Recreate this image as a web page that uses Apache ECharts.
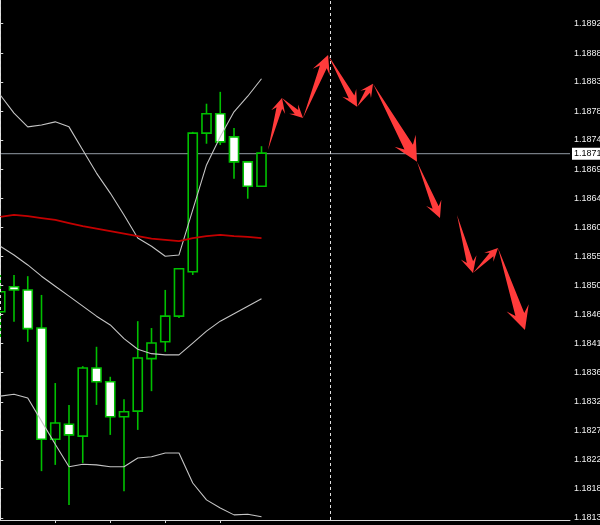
<!DOCTYPE html>
<html>
<head>
<meta charset="utf-8">
<style>
html,body{margin:0;padding:0;background:#000;}
#chart{width:600px;height:525px;}
</style>
<script src="https://cdn.jsdelivr.net/npm/echarts@6/dist/echarts.min.js"></script>
</head>
<body>
<div id="chart"></div>
<script>
// ---- data ----
const candleX = [0,1,2,3,4,5,6,7,8,9,10,11,12,13,14,15,16,17,18,19];
const openP  = [1.18461,1.18501,1.18496,1.18435,1.18257,1.18281,1.18262,1.18371,1.18349,1.18293,1.18302,1.18386,1.18413,1.18454,1.18525,1.18747,1.18778,1.18741,1.18701,1.18662];
const closeP = [1.18493,1.18496,1.18434,1.18257,1.18283,1.18264,1.18371,1.18349,1.18293,1.18301,1.18387,1.18411,1.18454,1.18530,1.18747,1.18778,1.18733,1.18701,1.18662,1.18715];
const lowP   = [1.18416,1.18445,1.18413,1.18206,1.18216,1.18152,1.18219,1.18312,1.18264,1.18174,1.18272,1.18334,1.18397,1.18451,1.18520,1.18730,1.18728,1.18674,1.18642,1.18661];
const highP  = [1.18520,1.18520,1.18518,1.18488,1.18347,1.18312,1.18374,1.18405,1.18357,1.18321,1.18446,1.18435,1.18496,1.18531,1.18749,1.18794,1.18813,1.18755,1.18701,1.18726];

const bandUpper = [1.18808,1.18779,1.18757,1.18760,1.18765,1.18757,1.18720,1.18683,1.18651,1.18616,1.18579,1.18566,1.18550,1.18552,1.18624,1.18696,1.18741,1.18781,1.18806,1.18834];
const bandMid   = [1.18566,1.18552,1.18536,1.18518,1.18502,1.18486,1.18470,1.18454,1.18440,1.18418,1.18401,1.18394,1.18392,1.18392,1.18411,1.18430,1.18446,1.18458,1.18470,1.18482];
const bandLower = [1.18326,1.18329,1.18323,1.18286,1.18249,1.18213,1.18217,1.18216,1.18213,1.18213,1.18227,1.18229,1.18235,1.18235,1.18187,1.18160,1.18147,1.18136,1.18137,1.18133];
const maRed     = [1.18613,1.18616,1.18614,1.18611,1.18608,1.18603,1.18598,1.18594,1.18590,1.18586,1.18582,1.18578,1.18576,1.18574,1.18579,1.18582,1.18584,1.18582,1.18581,1.18579];

const arrowFrom = [[19.47,1.18720],[20.49,1.18803],[22.02,1.18771],[23.84,1.18872],[25.95,1.18789],[27.11,1.18826],[30.31,1.18701],[33.22,1.18616],[34.38,1.18523],[36.20,1.18563]];
const arrowTo   = [[20.49,1.18803],[22.02,1.18771],[23.84,1.18872],[25.95,1.18789],[27.11,1.18826],[30.31,1.18701],[31.98,1.18611],[34.38,1.18523],[36.20,1.18563],[38.16,1.18432]];

const yTickValues = [1.18131,1.18178,1.18224,1.18271,1.18317,1.18364,1.18410,1.18457,1.18503,1.18550,1.18596,1.18643,1.18689,1.18736,1.18782,1.18829,1.18875,1.18922];
const yTickLabels = ['1.1813','1.1818','1.1822','1.1827','1.1832','1.1836','1.1841','1.1846','1.1850','1.1855','1.1860','1.1864','1.1869','1.1874','1.1878','1.1883','1.1888','1.1892'];
const xTickValues = [4,8,12,16];
const separatorX = [0,24];
const currentPrice = 1.18714;
const currentPriceLabel = '1.1871';

// ---- chart ----
const X_MIN = -0.018, X_MAX = 41.436;
const Y_MIN = 1.181278, Y_MAX = 1.189600;
const GREEN = '#00c000';
const FONT = '"Liberation Sans", Arial, sans-serif';

const candleData = candleX.map((x,i)=>[x, openP[i], closeP[i], lowP[i], highP[i]]);
const arrowData = arrowFrom.map((f,i)=>[f[0], f[1], arrowTo[i][0], arrowTo[i][1]]);
const pairs = arr => candleX.map((x,i)=>[x, arr[i]]);

function nearestLabel(v){
  let best=0, bd=Infinity;
  yTickValues.forEach((t,i)=>{const d=Math.abs(t-v); if(d<bd){bd=d;best=i;}});
  return yTickLabels[best];
}

const chart = echarts.init(document.getElementById('chart'), null, {renderer:'canvas'});
chart.setOption({
  animation:false,
  backgroundColor:'#000',
  grid:{left:0, right:30, top:0, bottom:5, containLabel:false, outerBoundsMode:'none'},
  xAxis:{
    type:'value', min:X_MIN, max:X_MAX,
    axisLine:{show:true, onZero:false, lineStyle:{color:'#d8d8d8', width:1}},
    axisTick:{show:true, customValues:xTickValues, length:3, lineStyle:{color:'#d8d8d8'}},
    axisLabel:{show:false},
    splitLine:{show:false}
  },
  yAxis:[{
    type:'value', position:'right', min:Y_MIN, max:Y_MAX,
    axisLine:{show:true, lineStyle:{color:'#d8d8d8', width:1}},
    axisTick:{show:true, customValues:yTickValues, length:3, lineStyle:{color:'#d8d8d8'}},
    axisLabel:{show:true, customValues:yTickValues, margin:4, color:'#f0f0f0', fontSize:9, fontFamily:FONT,
      formatter:(v)=>nearestLabel(v)},
    splitLine:{show:false}
  },{
    type:'value', position:'right', min:Y_MIN, max:Y_MAX,
    axisLine:{show:false}, axisTick:{show:false}, splitLine:{show:false},
    axisLabel:{show:true, customValues:[currentPrice], margin:2, color:'#000', backgroundColor:'#fff',
      padding:[2,3,1,2], fontSize:9, fontFamily:FONT, formatter:()=>currentPriceLabel}
  }],
  series:[
    {
      type:'line', data:[[X_MIN,currentPrice],[X_MAX,currentPrice]], z:1, silent:true, showSymbol:false,
      lineStyle:{color:'#939ba5', width:1},
      markLine:{
        symbol:'none', silent:true, animation:false,
        label:{show:false},
        data: separatorX.map(x=>({xAxis:x, lineStyle:{color:'#e0e0e0', width:1, type:[3,3]}}))
      }
    },
    {
      type:'custom', z:2, silent:true,
      data:candleData,
      encode:{x:0, y:[1,2,3,4]},
      renderItem:(params, api)=>{
        const x=api.value(0), o=api.value(1), c=api.value(2), l=api.value(3), h=api.value(4);
        const pO=api.coord([x,o]), pC=api.coord([x,c]), pL=api.coord([x,l]), pH=api.coord([x,h]);
        const w = api.size([1,0])[0]*0.66;
        const top=Math.min(pO[1],pC[1]), bot=Math.max(pO[1],pC[1]);
        const bull = c>=o;
        return {type:'group', children:[
          {type:'line', shape:{x1:pH[0], y1:pH[1], x2:pL[0], y2:pL[1]}, style:{stroke:GREEN, lineWidth:1.6}},
          {type:'rect', shape:{x:pO[0]-w/2, y:top, width:w, height:Math.max(bot-top,1)},
           style:{fill: bull?'#000':'#fff', stroke:GREEN, lineWidth:1.6}}
        ]};
      }
    },
    {type:'line', data:pairs(bandUpper), z:3, showSymbol:false, silent:true, lineStyle:{color:'#c4c4c4', width:1.1}},
    {type:'line', data:pairs(bandMid), z:3, showSymbol:false, silent:true, lineStyle:{color:'#c4c4c4', width:1.1}},
    {type:'line', data:pairs(bandLower), z:3, showSymbol:false, silent:true, lineStyle:{color:'#c4c4c4', width:1.1}},
    {type:'line', data:pairs(maRed), z:3, showSymbol:false, silent:true, lineStyle:{color:'#c40000', width:1.8}},
    {
      type:'custom', z:4, silent:true,
      data:arrowData,
      encode:{x:[0,2], y:[1,3]},
      renderItem:(params, api)=>{
        const a=api.coord([api.value(0), api.value(1)]);
        const b=api.coord([api.value(2), api.value(3)]);
        const dx=b[0]-a[0], dy=b[1]-a[1];
        const len=Math.sqrt(dx*dx+dy*dy);
        const ux=dx/len, uy=dy/len, nx=-uy, ny=ux;
        const hl=Math.max(13, len*0.27), hw=hl*0.5, sw=hl*0.2;
        const base=[b[0]-ux*hl*0.7, b[1]-uy*hl*0.7];
        const barb=[b[0]-ux*hl, b[1]-uy*hl];
        const pts=[
          a,
          [base[0]+nx*sw, base[1]+ny*sw],
          [barb[0]+nx*hw, barb[1]+ny*hw],
          b,
          [barb[0]-nx*hw, barb[1]-ny*hw],
          [base[0]-nx*sw, base[1]-ny*sw]
        ];
        return {type:'polygon', shape:{points:pts}, style:{fill:'#ff3b3b', stroke:null}};
      }
    }
  ]
});
</script>
</body>
</html>
